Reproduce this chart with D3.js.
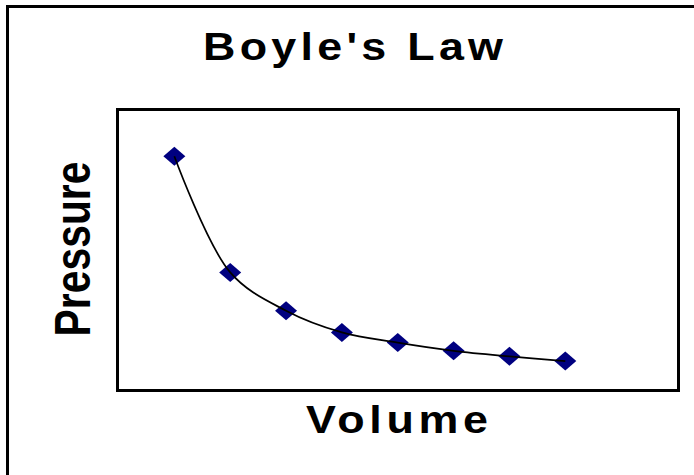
<!DOCTYPE html>
<html>
<head>
<meta charset="utf-8">
<script src="https://cdn.jsdelivr.net/npm/d3@7"></script>
<style>
  html, body { margin: 0; padding: 0; background: #fff; }
  svg { display: block; }
</style>
</head>
<body>
<svg id="chart" width="694" height="475"></svg>
<script>
// ---- data ----
const volume   = [1, 2, 3, 4, 5, 6, 7, 8];
const pressure = [8.0, 4.03, 2.72, 1.98, 1.63, 1.35, 1.16, 1.0];
const titleText = "Boyle's Law";
const xLabel = "Volume";
const yLabel = "Pressure";

// ---- layout ----
const W = 694, H = 475;
const plot = { left: 117.5, right: 678.5, top: 109.5, bottom: 390.5 };
const font = "'Liberation Sans', Arial, sans-serif";
const sx = 1.15;

const svg = d3.select("#chart");
svg.append("rect").attr("width", W).attr("height", H).attr("fill", "#fff");

// outer frame (right/bottom run off the picture)
svg.append("rect")
  .attr("x", 7.5).attr("y", 6.5)
  .attr("width", W + 20).attr("height", H + 20)
  .attr("fill", "none").attr("stroke", "#000").attr("stroke-width", 3);

// scales
const x = d3.scaleLinear().domain([0, 10]).range([118.5, 677]);
const y = d3.scaleLinear().domain([0, 9.6]).range([390.3, 109.5]);

// plot area box
svg.append("rect")
  .attr("x", plot.left).attr("y", plot.top)
  .attr("width", plot.right - plot.left).attr("height", plot.bottom - plot.top)
  .attr("fill", "#fff").attr("stroke", "#000").attr("stroke-width", 3);

const data = volume.map((v, i) => ({ v, p: pressure[i] }));

// markers (diamonds)
const hw = 11, hh = 9.5;
svg.append("g").selectAll("path").data(data).join("path")
  .attr("d", d => {
    const cx = x(d.v), cy = y(d.p);
    return `M${cx},${cy - hh}L${cx + hw},${cy}L${cx},${cy + hh}L${cx - hw},${cy}Z`;
  })
  .attr("fill", "#000080");

// smoothed line on top
const line = d3.line().x(d => x(d.v)).y(d => y(d.p)).curve(d3.curveCatmullRom.alpha(0.5));
svg.append("path").datum(data)
  .attr("d", line)
  .attr("fill", "none").attr("stroke", "#000").attr("stroke-width", 1.7);

// title
svg.append("text")
  .attr("transform", `translate(203,60) scale(${sx},1)`)
  .attr("font-family", font).attr("font-weight", "bold").attr("font-size", 39)
  .attr("textLength", 300 / sx).attr("lengthAdjust", "spacing")
  .attr("fill", "#000")
  .text(titleText);

// x label
svg.append("text")
  .attr("transform", `translate(306,433) scale(${sx},1)`)
  .attr("font-family", font).attr("font-weight", "bold").attr("font-size", 39)
  .attr("textLength", 182 / sx).attr("lengthAdjust", "spacing")
  .attr("fill", "#000")
  .text(xLabel);

// y label
svg.append("text")
  .attr("transform", "translate(90,249) rotate(-90)")
  .attr("x", -87.5).attr("y", 0)
  .attr("font-family", font).attr("font-weight", "bold").attr("font-size", 50)
  .attr("textLength", 175).attr("lengthAdjust", "spacingAndGlyphs")
  .attr("fill", "#000")
  .text(yLabel);
</script>
</body>
</html>
